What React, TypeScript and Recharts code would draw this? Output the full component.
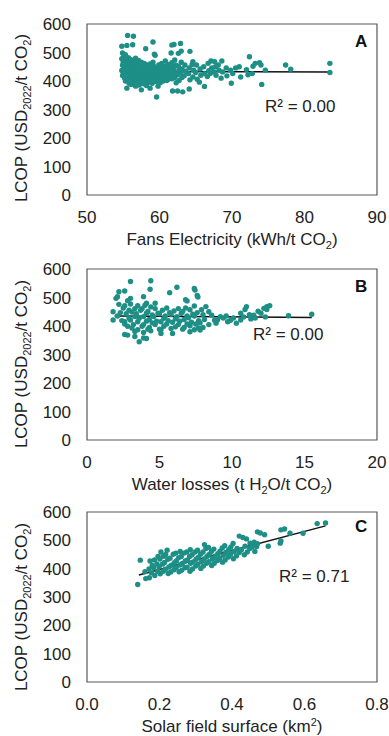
import React from 'react'
import {
  ScatterChart,
  Scatter,
  XAxis,
  YAxis,
  ReferenceLine,
  ReferenceArea,
} from 'recharts'

// LCOP vs fans electricity (kWh/t CO2, USD2022/t CO2)
const fansPoints: [number, number][] = [
  [54.9,498],[55.1,488],[54.8,478],[55.0,466],[54.9,455],[55.1,446],[54.8,437],[55.0,428],[54.9,419],[55.2,410],[54.8,522],
  [55.3,492],[55.4,472],[55.2,460],[55.4,450],[55.3,440],[55.5,430],[55.2,420],[55.4,410],[55.3,400],[55.5,525],
  [55.7,482],[55.6,466],[55.8,452],[55.6,440],[55.7,428],[55.9,415],[55.6,403],[55.8,392],[55.5,375],[55.6,560],
  [56.0,476],[56.1,462],[55.9,448],[56.1,436],[56.0,424],[56.2,412],[56.0,400],[56.1,388],
  [56.4,470],[56.3,456],[56.5,444],[56.3,432],[56.4,420],[56.2,408],[56.5,396],[56.4,557],[56.3,527],
  [56.7,480],[56.8,466],[56.6,452],[56.9,440],[56.7,428],[56.8,416],[56.6,404],[56.9,392],[56.7,382],
  [57.1,472],[57.2,458],[57.0,446],[57.2,434],[57.1,422],[57.3,410],[57.0,398],[57.2,386],
  [57.5,466],[57.6,454],[57.4,442],[57.6,430],[57.5,418],[57.7,406],[57.4,394],[57.5,369],
  [57.9,462],[58.0,450],[57.8,438],[58.0,426],[57.9,414],[58.1,402],[57.8,390],[58.1,513],
  [58.3,456],[58.4,444],[58.2,432],[58.4,420],[58.3,408],[58.5,396],[58.2,384],
  [58.7,460],[58.8,448],[58.6,436],[58.8,424],[58.7,412],[58.9,400],[58.7,375],
  [59.1,466],[59.2,452],[59.0,440],[59.2,428],[59.1,416],[59.3,404],[59.0,392],[59.1,537],[59.3,494],
  [59.5,446],[59.6,434],[59.4,422],[59.6,410],[59.5,398],[59.6,344],[59.4,490],
  [59.9,456],[60.0,442],[59.8,430],[60.0,418],[59.9,406],[60.1,394],[59.8,382],
  [60.3,462],[60.4,448],[60.2,436],[60.4,424],[60.3,412],[60.5,400],
  [60.8,470],[60.9,452],[60.7,438],[60.9,426],[60.8,414],[61.0,402],
  [61.2,458],[61.3,444],[61.1,430],[61.3,418],[61.2,406],
  [61.7,464],[61.8,448],[61.6,434],[61.8,420],[61.7,408],[61.8,365],[61.6,498],[61.7,526],
  [62.1,474],[62.2,456],[62.0,440],[62.2,426],[62.1,412],[62.3,394],[62.0,528],
  [62.6,452],[62.7,436],[62.5,422],[62.7,402],[62.6,497],[62.5,365],
  [63.0,466],[63.1,442],[62.9,428],[63.1,412],[62.9,532],[63.0,505],[63.2,362],
  [63.5,456],[63.6,434],[63.4,418],
  [64.1,446],[64.0,426],[64.2,404],[64.1,372],[64.2,504],
  [64.6,468],[64.5,458],[64.7,438],[64.6,414],
  [65.1,456],[65.0,430],[65.2,406],
  [65.6,442],[65.7,420],[65.5,396],
  [66.1,450],[66.2,426],[66.2,381],
  [66.7,462],[66.8,436],[66.6,416],
  [67.1,470],[67.2,446],[67.0,426],
  [67.6,468],[67.7,450],[67.5,432],[67.8,420],
  [68.1,456],[68.2,438],
  [68.6,470],[68.7,432],[68.5,410],
  [69.2,446],[69.3,418],
  [69.8,438],[69.9,392],[70.1,426],
  [70.5,446],[71.0,450],[71.2,414],
  [72.0,440],[72.2,422],[72.4,485],[72.8,426],[72.9,452],[73.2,462],[73.8,464],[74.0,456],[74.1,388],[74.6,438],
  [77.4,456],[78.1,441],[83.5,462],[83.5,430],
]

// LCOP vs water losses (t H2O/t CO2)
const waterPoints: [number, number][] = [
  [3.0,556],[4.4,559],[4.35,529],[6.2,536],[5.7,517],[7.4,532],[7.45,526],[7.6,507],[7.65,502],
  [2.2,520],[2.6,523],[2.1,503],[2.0,497],[3.0,497],[3.9,503],[4.1,480],[4.7,480],[6.8,492],[6.9,488],[7.4,470],
  [1.8,421],[1.8,450],[2.6,370],[2.8,368],[3.6,345],[3.3,363],[3.9,358],[4.1,356],[5.1,374],[5.9,374],[7.1,380],[7.8,386],
  [13.9,436],[15.5,441],
  [11.0,468],[10.9,458],[11.5,438],[10.6,421],[12.2,462],[12.4,468],[12.6,471],[12.3,432],[10.6,445],[10.1,428],
  [11.8,452],[12.0,445],[11.2,440],[11.6,428],[12.4,458],[10.8,432],[11.3,425],
  [8.2,468],[8.4,450],[8.6,438],[9.0,421],[9.7,415],[9.2,433],[8.4,405],[8.8,420],[9.4,428],[9.9,420],[10.3,410],[8.0,440],[8.9,410],[9.6,435],
  [2.2,476],[2.5,463],[2.3,447],[2.1,435],[2.4,419],[2.6,407],
  [2.8,489],[2.6,471],[2.9,455],[2.7,443],[2.9,427],[2.6,415],[2.8,399],
  [3.0,477],[3.3,461],[3.1,449],[3.3,433],[3.0,421],[3.2,405],[3.1,393],[3.3,381],
  [3.5,471],[3.7,455],[3.4,443],[3.6,427],[3.5,415],[3.8,399],[3.5,387],
  [4.0,473],[3.8,461],[4.1,445],[3.9,433],[4.1,417],[3.9,405],[4.2,389],[3.9,377],
  [4.4,467],[4.2,451],[4.5,439],[4.3,423],[4.5,411],[4.3,395],[4.4,383],
  [4.7,461],[4.9,445],[4.6,433],[4.8,417],[4.7,405],[5.0,389],
  [5.2,455],[5.0,443],[5.3,427],[5.1,415],[5.3,399],[5.1,387],
  [5.5,463],[5.7,447],[5.4,435],[5.6,419],[5.5,407],[5.8,391],
  [6.0,453],[5.8,441],[6.1,425],[5.9,413],[6.1,397],
  [6.3,461],[6.5,445],[6.2,433],[6.4,417],[6.3,405],[6.6,389],
  [6.8,463],[6.6,451],[6.9,435],[6.7,423],[6.9,407],[6.7,395],
  [7.1,457],[7.3,441],[7.0,429],[7.2,413],[7.1,401],[7.4,387],
  [7.6,447],[7.4,435],[7.7,419],[7.5,407],[7.7,393],
  [7.9,457],[8.1,423],[7.8,411],[8.0,395],
]

// LCOP vs solar field surface (km2)
const solarPoints: [number, number][] = [
  [0.140,344],[0.147,430],[0.160,389],[0.162,365],[0.172,368],
  [0.635,559],[0.658,561],[0.596,525],[0.560,525],[0.535,537],[0.545,540],[0.533,490],[0.535,498],
  [0.500,479],[0.470,530],[0.478,526],[0.490,520],[0.420,515],[0.430,510],[0.440,505],[0.450,490],[0.470,488],[0.468,478],
  [0.178,385],[0.171,399],[0.180,411],[0.174,427],
  [0.187,376],[0.195,391],[0.184,403],[0.193,417],[0.186,431],[0.196,443],
  [0.202,382],[0.210,391],[0.199,407],[0.208,416],[0.201,434],[0.211,444],[0.204,459],
  [0.224,383],[0.216,398],[0.226,406],[0.214,422],[0.223,433],[0.217,450],[0.221,465],
  [0.231,388],[0.240,396],[0.233,412],[0.241,421],[0.229,437],[0.238,451],
  [0.254,389],[0.246,404],[0.256,413],[0.247,428],[0.253,439],[0.245,455],[0.257,461],
  [0.261,394],[0.270,403],[0.263,418],[0.271,427],[0.260,443],[0.268,455],
  [0.284,391],[0.276,405],[0.286,419],[0.277,431],[0.283,443],[0.275,459],[0.285,467],
  [0.291,399],[0.300,409],[0.293,424],[0.301,433],[0.290,449],[0.298,459],
  [0.314,401],[0.306,416],[0.316,425],[0.307,440],[0.313,451],[0.305,465],
  [0.321,409],[0.330,419],[0.323,434],[0.331,443],[0.320,459],[0.328,471],[0.324,485],
  [0.344,411],[0.336,425],[0.346,435],[0.337,450],[0.343,461],[0.335,475],
  [0.351,419],[0.360,429],[0.353,444],[0.361,453],[0.350,469],
  [0.374,423],[0.366,437],[0.376,447],[0.367,462],[0.373,473],
  [0.381,431],[0.390,441],[0.383,457],[0.391,467],[0.380,481],
  [0.404,435],[0.396,451],[0.406,461],[0.397,477],[0.403,489],
  [0.412,445],[0.420,457],[0.414,471],
  [0.434,449],[0.426,467],[0.436,479],
  [0.442,459],[0.449,471],
  [0.463,461],[0.456,477],[0.461,493],
]

const fansTrend = [{ x: 54.7, y: 433 }, { x: 83.5, y: 432 }]
const waterTrend = [{ x: 1.9, y: 435 }, { x: 15.5, y: 430 }]
const solarTrend = [{ x: 0.143, y: 378 }, { x: 0.658, y: 551 }]

const lcopTicks = [0, 100, 200, 300, 400, 500, 600]
const fansTicks = [50, 60, 70, 80, 90]
const waterTicks = [0, 5, 10, 15, 20]
const solarTicks = [0, 0.2, 0.4, 0.6, 0.8]

const FONT = '"Liberation Sans", Arial, sans-serif'
const INK = '#222'
const DOT = '#1e8f86'

const Dot = (p: any) => <circle cx={p.cx} cy={p.cy} r={2.7} fill={DOT} />

function Panel({
  points, trend, xTicks, xDomain, fmt, height, top, plotBottom, letter, letterY,
  r2, r2x, r2y, ylabelY, title, titleY, offsetY,
}: any) {
  return (
    <div style={{ position: 'absolute', left: 0, top: offsetY }}>
      <ScatterChart width={389} height={height} margin={{ top, right: 12, left: 0, bottom: 0 }}>
        <XAxis
          type="number"
          dataKey="x"
          domain={xDomain}
          ticks={xTicks}
          tickFormatter={fmt}
          axisLine={false}
          tickLine={false}
          tickSize={0}
          tickMargin={16}
          height={height - plotBottom}
          interval={0}
          tick={{ fontSize: 17, fill: INK, fontFamily: FONT }}
        />
        <YAxis
          type="number"
          dataKey="y"
          domain={[0, 600]}
          ticks={lcopTicks}
          axisLine={false}
          tickLine={false}
          tickSize={0}
          tickMargin={16}
          width={87}
          interval={0}
          tick={{ fontSize: 17, fill: INK, fontFamily: FONT }}
        />
        <ReferenceArea
          x1={xDomain[0]}
          x2={xDomain[1]}
          y1={0}
          y2={600}
          fill="none"
          stroke="#595959"
          strokeWidth={1.2}
          fillOpacity={0}
        />
        <Scatter
          data={points.map(([x, y]: [number, number]) => ({ x, y }))}
          shape={Dot}
          isAnimationActive={false}
        />
        <ReferenceLine segment={trend} stroke="#111" strokeWidth={1.5} />
        <text x={355} y={letterY} fontSize={17} fontWeight="bold" fill="#111" fontFamily={FONT}>
          {letter}
        </text>
        <text x={r2x} y={r2y} fontSize={17} fill={INK} fontFamily={FONT}>
          {r2}
        </text>
        <text
          transform={`translate(27, ${ylabelY}) rotate(-90)`}
          textAnchor="middle"
          fontSize={17}
          fill={INK}
          fontFamily={FONT}
        >
          LCOP (USD<tspan dy={4} fontSize={11}>2022</tspan>
          <tspan dy={-4}>/t CO</tspan>
          <tspan dy={4} fontSize={11}>2</tspan>
          <tspan dy={-4}>)</tspan>
        </text>
        <text x={232} y={titleY} textAnchor="middle" fontSize={17} fill={INK} fontFamily={FONT}>
          {title}
        </text>
      </ScatterChart>
    </div>
  )
}

export default function App() {
  return (
    <div style={{ position: 'absolute', left: 0, top: 0, width: 389, height: 736, background: '#fff', overflow: 'hidden' }}>
      <Panel
        offsetY={0}
        points={fansPoints}
        trend={fansTrend}
        xTicks={fansTicks}
        xDomain={[50, 90]}
        fmt={(v: number) => String(v)}
        height={262}
        top={24}
        plotBottom={195}
        letter="A"
        letterY={47}
        r2="R² = 0.00"
        r2x={265}
        r2y={112}
        ylabelY={118}
        titleY={245}
        title={<>Fans Electricity (kWh/t CO<tspan dy={4} fontSize={11}>2</tspan><tspan dy={-4}>)</tspan></>}
      />
      <Panel
        offsetY={245}
        points={waterPoints}
        trend={waterTrend}
        xTicks={waterTicks}
        xDomain={[0, 20]}
        fmt={(v: number) => String(v)}
        height={262}
        top={24}
        plotBottom={195}
        letter="B"
        letterY={47}
        r2="R² = 0.00"
        r2x={253}
        r2y={95}
        ylabelY={119}
        titleY={245}
        title={<>Water losses (t H<tspan dy={4} fontSize={11}>2</tspan><tspan dy={-4}>O/t CO</tspan><tspan dy={4} fontSize={11}>2</tspan><tspan dy={-4}>)</tspan></>}
      />
      <Panel
        offsetY={490}
        points={solarPoints}
        trend={solarTrend}
        xTicks={solarTicks}
        xDomain={[0, 0.8]}
        fmt={(v: number) => v.toFixed(1)}
        height={246}
        top={22}
        plotBottom={192}
        letter="C"
        letterY={42}
        r2="R² = 0.71"
        r2x={279}
        r2y={92}
        ylabelY={117}
        titleY={242}
        title={<>Solar field surface (km<tspan dy={-6} fontSize={11}>2</tspan><tspan dy={6}>)</tspan></>}
      />
    </div>
  )
}
